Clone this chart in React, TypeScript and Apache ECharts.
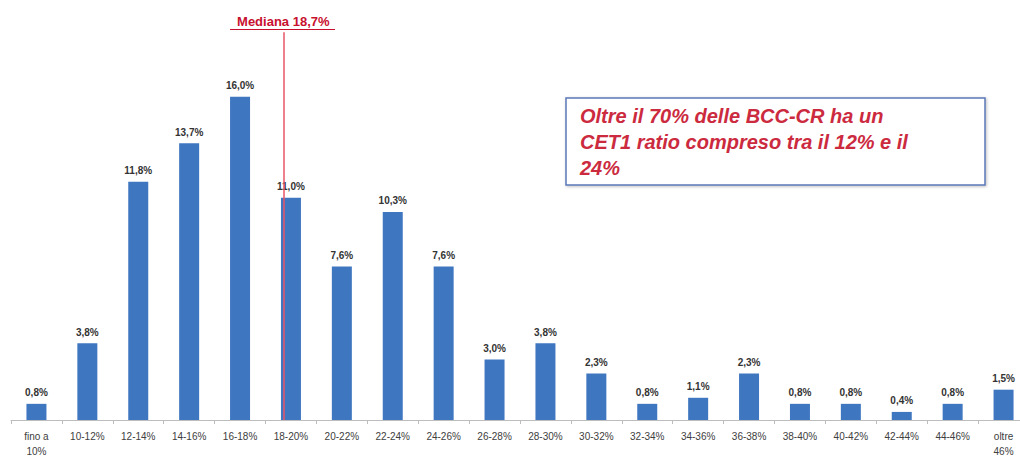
import React, { useEffect, useRef } from "react";
import * as echarts from "echarts";

const categories = [
  "fino a\n10%", "10-12%", "12-14%", "14-16%", "16-18%", "18-20%", "20-22%", "22-24%",
  "24-26%", "26-28%", "28-30%", "30-32%", "32-34%", "34-36%", "36-38%", "38-40%",
  "40-42%", "42-44%", "44-46%", "oltre\n46%",
];
const shares = [0.8, 3.8, 11.8, 13.7, 16.0, 11.0, 7.6, 10.3, 7.6, 3.0, 3.8, 2.3, 0.8, 1.1, 2.3, 0.8, 0.8, 0.4, 0.8, 1.5];
const ratioRange = [8, 48];
const median = 18.7;
const medianLabel = "Mediana 18,7%";
const noteText = "Oltre il 70% delle BCC-CR ha un\nCET1 ratio compreso tra il 12% e il\n24%";

export default function App() {
  const ref = useRef<HTMLDivElement>(null);
  useEffect(() => {
    if (!ref.current) return;
    const chart = echarts.init(ref.current, null, { renderer: "svg" });
    const font = "'Liberation Sans', Arial, sans-serif";
    chart.setOption({
      animation: false,
      textStyle: { fontFamily: font },
      grid: { left: 11, right: 11, top: 16, bottom: 38 },
      xAxis: [
        {
          type: "category",
          data: categories,
          axisLine: { lineStyle: { color: "#bdbdbd", width: 1 } },
          axisTick: { show: true, length: 4, lineStyle: { color: "#bdbdbd" } },
          axisLabel: { color: "#404040", fontSize: 10, margin: 9, lineHeight: 15, interval: 0, fontFamily: font },
        },
        {
          type: "value",
          min: ratioRange[0],
          max: ratioRange[1],
          show: false,
          position: "bottom",
        },
      ],
      yAxis: { type: "value", min: 0, max: 20, show: false, splitLine: { show: false } },
      series: [
        {
          type: "bar",
          data: shares,
          barWidth: 20,
          itemStyle: { color: "#3f76c0" },
          label: {
            show: true,
            position: "top",
            distance: 6,
            color: "#333333",
            fontSize: 10,
            fontWeight: "bold",
            fontFamily: font,
            formatter: (p: any) => p.value.toFixed(1).replace(".", ",") + "%",
          },
          z: 2,
        },
        {
          type: "line",
          xAxisIndex: 1,
          yAxisIndex: 0,
          data: [],
          markLine: {
            silent: true,
            symbol: "none",
            lineStyle: { color: "#e8546a", width: 1.5, type: "solid" },
            label: {
              show: true,
              position: "end",
              distance: 4,
              formatter: medianLabel,
              color: "#c8102e",
              fontSize: 13,
              fontWeight: "bold",
              fontFamily: font,
            },
            data: [[{ coord: [median, 0] }, { coord: [median, 19.2] }]],
          },
          z: 3,
        },
      ],
      graphic: [
        {
          type: "line",
          shape: { x1: 230, y1: 29.5, x2: 335, y2: 29.5 },
          style: { stroke: "#c8102e", lineWidth: 1 },
        },
        {
          type: "rect",
          shape: { x: 566, y: 98, width: 419, height: 87 },
          style: { fill: "#ffffff", stroke: "#5b78b8", lineWidth: 1.5, shadowBlur: 3, shadowColor: "rgba(0,0,0,0.25)", shadowOffsetX: 1, shadowOffsetY: 1 },
          z: 10,
        },
        {
          type: "text",
          x: 580,
          y: 103,
          style: {
            text: noteText,
            fill: "#cc2a3e",
            font: `italic bold 20px ${font}`,
            lineHeight: 26,
          },
          z: 11,
        },
      ],
    });
    return () => chart.dispose();
  }, []);
  return (
    <div style={{ position: "absolute", left: 0, top: 0, width: 1020, height: 459, overflow: "hidden", background: "#fff" }}>
      <div ref={ref} style={{ width: 1040, height: 459 }} />
    </div>
  );
}
